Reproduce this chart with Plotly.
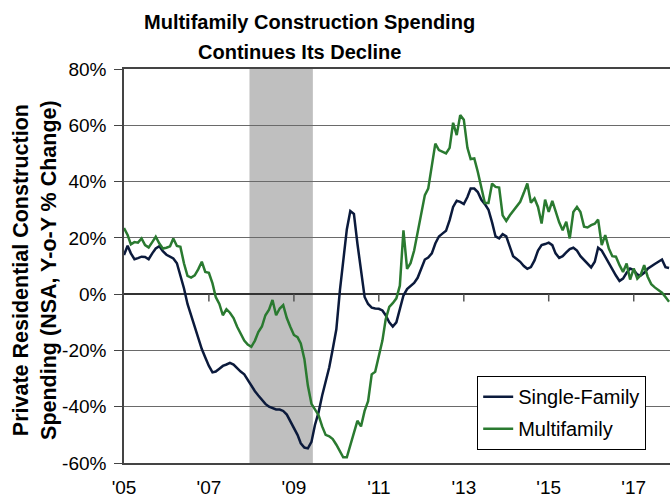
import pandas as pd
import plotly.graph_objects as go

# Monthly Y-o-Y % change, Jan 2005 .. Nov 2017
START = "2005-01-01"

single_family = [
    13.9, 17.2, 14.5, 12.4, 12.8, 13.3, 13.2, 12.4, 14.5, 16.2, 17.0, 15.3,
    14.0, 13.2, 12.7, 11.0, 7.0, 2.0, -3.5, -7.5, -11.6, -15.5, -19.5, -22.5,
    -25.5, -27.8, -27.5, -26.5, -25.5, -25.0, -24.4, -25.0, -26.4, -27.5, -28.5, -30.5,
    -32.9, -34.5, -36.0, -37.5, -39.0, -40.0, -40.5, -41.0, -41.0, -41.5, -42.8, -45.0,
    -47.5, -50.0, -53.0, -54.5, -54.8, -52.5, -46.5, -42.0, -36.0, -31.0, -26.0, -19.5,
    -12.5, 1.5, 11.0, 23.0, 29.5, 28.5, 18.0, 8.5, -1.0, -3.5, -4.8, -5.1,
    -5.2, -5.8, -7.5, -10.0, -11.5, -10.0, -5.0, -0.5, 1.8, 3.0, 4.0, 5.8,
    9.0, 12.3, 13.0, 14.5, 18.0, 20.5, 21.5, 22.5, 26.3, 31.0, 33.2, 32.8,
    32.0, 34.5, 37.5, 37.5, 36.3, 33.5, 32.0, 30.0, 25.5, 20.5, 19.8, 21.3,
    20.5, 16.5, 13.5, 12.5, 11.5, 10.0, 9.0, 9.6, 12.0, 15.5, 17.4, 17.8,
    18.3, 17.4, 14.5, 12.9, 13.5, 14.8, 16.0, 16.5, 15.5, 13.5, 12.2, 11.0,
    9.5, 11.5, 16.5, 15.5, 13.2, 11.2, 9.0, 6.6, 4.7, 5.5, 7.6, 9.1,
    8.6, 7.0, 6.6, 7.6, 9.0, 10.0, 10.7, 11.5, 12.3, 9.6, 9.3,
]

multifamily = [
    23.5, 21.0, 17.7, 18.5, 18.3, 19.8, 17.4, 16.6, 18.5, 20.4, 18.0, 16.2,
    16.5, 17.0, 19.8, 17.1, 16.8, 10.9, 6.5, 5.9, 6.7, 8.8, 11.5, 7.9,
    7.6, 3.8, -1.0, -3.5, -7.5, -5.4, -6.6, -8.5, -11.6, -14.0, -16.5, -17.9,
    -18.7, -16.5, -13.5, -11.5, -7.5, -5.5, -2.1, -7.5, -5.1, -3.9, -8.5, -11.6,
    -14.5, -15.3, -17.5, -23.0, -32.5, -39.0, -41.0, -43.0, -47.0, -50.0, -50.5, -51.5,
    -53.5, -56.0, -58.0, -58.0, -54.0, -49.0, -45.0, -47.0, -41.5, -38.0, -28.5, -27.6,
    -22.5, -16.5, -9.0, -4.5, -3.2, -1.5, 3.0, 22.7, 9.0, 11.0, 15.5, 22.0,
    29.8, 35.2, 37.5, 45.0, 53.5, 51.2, 50.6, 50.0, 52.0, 60.9, 56.5, 63.6,
    62.0, 52.0, 48.0, 48.2, 43.5, 37.5, 32.4, 32.4, 39.3, 38.1, 37.9, 28.0,
    26.0, 28.0, 29.5, 31.0, 32.8, 36.0, 39.3, 32.5, 34.0, 31.0, 25.1, 33.6,
    29.2, 33.1, 29.2, 25.5, 22.7, 25.7, 19.8, 29.2, 31.0, 29.2, 24.0, 23.7,
    24.5, 25.0, 26.5, 17.4, 21.0, 16.2, 13.5, 13.3, 10.3, 7.9, 10.9, 5.2,
    9.1, 5.5, 6.7, 10.3, 6.2, 3.5, 2.4, 1.5, 0.5, -1.0, -2.7,
]

recession_start = "2007-12-16"
recession_end = "2009-06-13"

x_tick_vals = ["2005-01-01", "2007-01-01", "2009-01-01", "2011-01-01",
               "2013-01-01", "2015-01-01", "2017-01-01"]
x_tick_text = ["'05", "'07", "'09", "'11", "'13", "'15", "'17"]
y_tick_vals = [-60, -40, -20, 0, 20, 40, 60, 80]
y_tick_text = ["%d%%" % v for v in y_tick_vals]

title_lines = ["Multifamily Construction Spending", "Continues Its Decline"]

NAVY = "#0b1a3c"
GREEN = "#2a7a30"
FONT = "Liberation Sans, Arial, sans-serif"

months = pd.date_range(START, periods=len(single_family), freq="MS")

fig = go.Figure()

fig.add_trace(go.Scatter(
    x=months, y=single_family, name="Single-Family", mode="lines",
    line=dict(color=NAVY, width=2.5), legendgroup="sf",
))
fig.add_trace(go.Scatter(
    x=months, y=multifamily, name="Multifamily", mode="lines",
    line=dict(color=GREEN, width=2.5), legendgroup="mf",
))

# recession shading, above the grid but under the lines
fig.add_shape(
    type="rect", xref="x", yref="paper",
    x0=recession_start, x1=recession_end, y0=0, y1=1,
    fillcolor="#bfbfbf", line=dict(width=0), layer="between",
)

# year ticks sit on the 0% line
for t in x_tick_vals[1:]:
    fig.add_shape(
        type="line", xref="x", yref="y", x0=t, x1=t, y0=0, y1=-2.6,
        line=dict(color="#555555", width=1.5),
    )

# title as two lines (Excel-style spacing)
for text, xp, yp in zip(title_lines, [0.339, 0.322], [1.119, 1.043]):
    fig.add_annotation(
        text="<b>%s</b>" % text, xref="paper", yref="paper", x=xp, y=yp,
        xanchor="center", yanchor="middle", showarrow=False,
        font=dict(size=20),
    )

fig.add_annotation(
    text="<b>Private Residential Construction<br>Spending (NSA, Y-o-Y % Change)</b>",
    xref="paper", yref="paper", x=-0.163, y=0.49,
    xanchor="center", yanchor="middle", textangle=-90,
    showarrow=False, font=dict(size=21.5),
)

fig.update_layout(
    width=670, height=500,
    margin=dict(l=124, r=0, t=69, b=37),
    paper_bgcolor="white", plot_bgcolor="white",
    font=dict(family=FONT, size=19, color="black"),
    xaxis=dict(
        range=["2005-01-01", "2017-11-09"],
        tickvals=x_tick_vals, ticktext=x_tick_text,
        ticks="", showgrid=False, zeroline=False,
        showline=True, linecolor="#444444", linewidth=1.5, mirror=True,
        ticklabelstandoff=6,
    ),
    yaxis=dict(
        range=[-60, 80],
        tickvals=y_tick_vals, ticktext=y_tick_text,
        ticks="outside", ticklen=8, tickcolor="#444444",
        showgrid=True, gridcolor="#6a6a6a", gridwidth=1.3,
        zeroline=True, zerolinecolor="#333333", zerolinewidth=1.5,
        showline=True, linecolor="#444444", linewidth=1.5,
        ticklabelstandoff=4,
    ),
    legend=dict(
        x=0.6465, y=0.221, xanchor="left", yanchor="top",
        bgcolor="white", bordercolor="black", borderwidth=1.2,
        font=dict(size=20), tracegroupgap=3, itemwidth=30,
    ),
)

# drop the page's default body margin so the figure sits at (0, 0)
fig.write_html(
    "out.html",
    config={"displayModeBar": False},
    post_script="document.body.style.margin='0';",
)
